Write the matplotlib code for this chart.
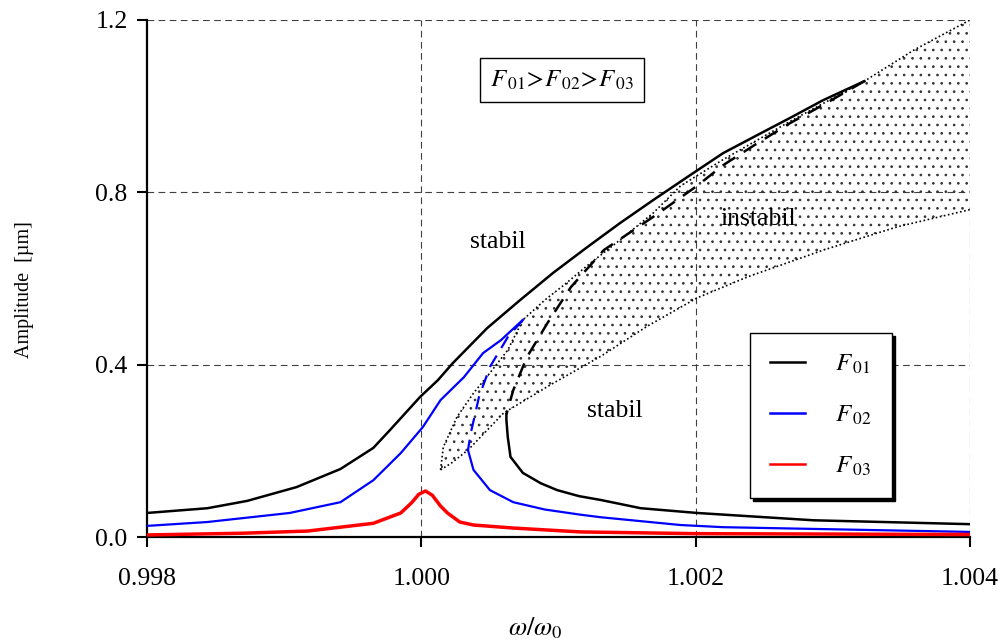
import matplotlib
matplotlib.use("Agg")
import matplotlib.pyplot as plt
from matplotlib.ticker import FormatStrFormatter, FixedLocator

plt.rcParams['font.family'] = ['Liberation Serif', 'DejaVu Serif']
plt.rcParams['mathtext.fontset'] = 'stix'
plt.rcParams['hatch.linewidth'] = 0.7

# F01 - stable upper branch, unstable (dashed) branch, stable lower branch
f1_up_x = [0.998, 0.99844, 0.99873, 0.99909, 0.99941, 0.99965, 0.99977, 0.99999, 1.00012,
           1.00023, 1.00048, 1.00072, 1.00096, 1.00121, 1.00145, 1.00169, 1.00196, 1.0022,
           1.00245, 1.00269, 1.00293, 1.00323]
f1_up_y = [0.056, 0.067, 0.084, 0.116, 0.158, 0.207, 0.248, 0.325, 0.364,
           0.404, 0.485, 0.55, 0.613, 0.673, 0.729, 0.782, 0.840, 0.891,
           0.933, 0.973, 1.014, 1.058]
f1_mid_x = [1.00323, 1.00293, 1.00269, 1.00245, 1.0022, 1.00201, 1.00169, 1.00133, 1.00109,
            1.00092, 1.00077, 1.00067, 1.00062]
f1_mid_y = [1.058, 1.003, 0.961, 0.914, 0.863, 0.815, 0.743, 0.666, 0.580,
            0.497, 0.418, 0.341, 0.285]
f1_low_x = [1.00062, 1.00062, 1.00063, 1.00065, 1.00074, 1.00087, 1.00099, 1.00115, 1.00131,
            1.0016, 1.00201, 1.00286, 1.004]
f1_low_y = [0.285, 0.272, 0.232, 0.186, 0.149, 0.125, 0.109, 0.095, 0.086,
            0.067, 0.056, 0.039, 0.030]

# F02
f2_up_x = [0.998, 0.99844, 0.99904, 0.99941, 0.99965, 0.99985, 1.00001, 1.00014, 1.00031,
           1.00045, 1.00058, 1.00074]
f2_up_y = [0.026, 0.035, 0.056, 0.081, 0.132, 0.195, 0.255, 0.318, 0.371,
           0.427, 0.457, 0.504]
f2_mid_x = [1.00074, 1.00063, 1.0005, 1.00042, 1.00037, 1.00036, 1.00034]
f2_mid_y = [0.504, 0.464, 0.395, 0.325, 0.255, 0.241, 0.202]
f2_low_x = [1.00034, 1.00038, 1.0005, 1.00067, 1.00090, 1.00116, 1.00131, 1.00189, 1.0022, 1.004]
f2_low_y = [0.202, 0.156, 0.109, 0.081, 0.064, 0.052, 0.046, 0.028, 0.023, 0.012]

# F03
f3_x = [0.998, 0.9987, 0.99917, 0.99965, 0.99985, 0.99993, 0.99998, 1.00003, 1.00008, 1.00014,
        1.00019, 1.00028, 1.00038, 1.00067, 1.00116, 1.002, 1.004]
f3_y = [0.005, 0.009, 0.014, 0.032, 0.056, 0.080, 0.099, 0.107, 0.097, 0.072,
        0.056, 0.035, 0.028, 0.021, 0.012, 0.008, 0.006]

# stability boundary (instability region)
inst_up_x = [1.00014, 1.00016, 1.00026, 1.00038, 1.0005, 1.00063, 1.00074, 1.0009, 1.00104,
             1.00121, 1.00145, 1.00169, 1.00189, 1.0022, 1.00269, 1.00323, 1.00359, 1.004]
inst_up_y = [0.156, 0.209, 0.279, 0.334, 0.381, 0.434, 0.504, 0.55, 0.585,
             0.63, 0.69, 0.752, 0.815, 0.876, 0.965, 1.058, 1.13, 1.2]
inst_lo_x = [1.00014, 1.00022, 1.00034, 1.0006, 1.00095, 1.00131, 1.00165, 1.00201, 1.00238,
             1.00293, 1.00347, 1.004]
inst_lo_y = [0.156, 0.172, 0.202, 0.288, 0.355, 0.42, 0.49, 0.555, 0.604,
             0.666, 0.72, 0.76]

xticks = [0.998, 1.000, 1.002, 1.004]
yticks = [0.0, 0.4, 0.8, 1.2]

fig = plt.figure(figsize=(10.03, 6.44), dpi=100)
ax = fig.add_axes([0.1466, 0.166, 0.8205, 0.803])

# grid
for gx in xticks[1:]:
    ax.axvline(gx, color='#404040', lw=0.8, dashes=(6, 4), zorder=1)
for gy in yticks[1:]:
    ax.axhline(gy, color='#404040', lw=0.8, dashes=(6, 4), zorder=1)

# instability region
poly_x = inst_lo_x + inst_up_x[::-1]
poly_y = inst_lo_y + inst_up_y[::-1]
ax.fill(poly_x, poly_y, facecolor='none', edgecolor='#333333', hatch='..', lw=0, zorder=2)
ax.plot(inst_up_x, inst_up_y, color='k', ls=(0, (1, 1.5)), lw=1.2, zorder=3)
ax.plot(inst_lo_x, inst_lo_y, color='k', ls=(0, (1, 1.5)), lw=1.2, zorder=3)

# curves
ax.plot(f1_up_x, f1_up_y, color='k', lw=1.8, zorder=4, label=r'$F_{\,01}$')
ax.plot(f1_mid_x, f1_mid_y, color='k', lw=1.8, dashes=(6, 4), zorder=4)
ax.plot(f1_low_x, f1_low_y, color='k', lw=1.8, zorder=4)
ax.plot(f2_up_x, f2_up_y, color='#0000ff', lw=1.6, zorder=4, label=r'$F_{\,02}$')
ax.plot(f2_mid_x, f2_mid_y, color='#0000ff', lw=1.6, dashes=(6, 4), zorder=4)
ax.plot(f2_low_x, f2_low_y, color='#0000ff', lw=1.6, zorder=4)
ax.plot(f3_x, f3_y, color='#ff0000', lw=2.5, zorder=4, label=r'$F_{\,03}$')

ax.set_xlim(0.998, 1.004)
ax.set_ylim(0, 1.2)
ax.xaxis.set_major_locator(FixedLocator(xticks))
ax.yaxis.set_major_locator(FixedLocator(yticks))
ax.xaxis.set_major_formatter(FormatStrFormatter('%.3f'))
ax.yaxis.set_major_formatter(FormatStrFormatter('%.1f'))
ax.tick_params(direction='out', length=7, width=1.5, labelsize=18.5)
ax.tick_params(axis='x', pad=15)
ax.tick_params(axis='y', pad=7)
for s in ['top', 'right']:
    ax.spines[s].set_visible(False)
for s in ['left', 'bottom']:
    ax.spines[s].set_linewidth(1.6)

ax.set_ylabel('Amplitude  [µm]', fontsize=14.5)
ax.yaxis.set_label_coords(-0.137, 0.478)
ax.set_xlabel(r'$\omega/\omega_0$', fontsize=19)
ax.xaxis.set_label_coords(0.472, -0.152)

ax.text(0.504, 0.884, r'$F_{\,01}\!>\!F_{\,02}\!>\!F_{\,03}$', transform=ax.transAxes,
        fontsize=18, ha='center', va='center',
        bbox=dict(boxstyle='square,pad=0.4', fc='white', ec='k', lw=1))
ax.text(1.00056, 0.685, 'stabil', fontsize=18.5, ha='center', va='center')
ax.text(1.00246, 0.738, 'instabil', fontsize=18.5, ha='center', va='center')
ax.text(1.00141, 0.293, 'stabil', fontsize=18.5, ha='center', va='center')

leg = ax.legend(loc='upper left', bbox_to_anchor=(0.733, 0.395), fontsize=18,
                frameon=True, fancybox=False, edgecolor='k', framealpha=1,
                shadow={'color': 'k', 'alpha': 1}, handlelength=1.4,
                labelspacing=1.1, borderpad=0.8, handletextpad=1.2, borderaxespad=0)
leg.get_frame().set_linewidth(1)
for line in leg.get_lines():
    line.set_linewidth(1.8)

fig.savefig('out.png', dpi=100)
